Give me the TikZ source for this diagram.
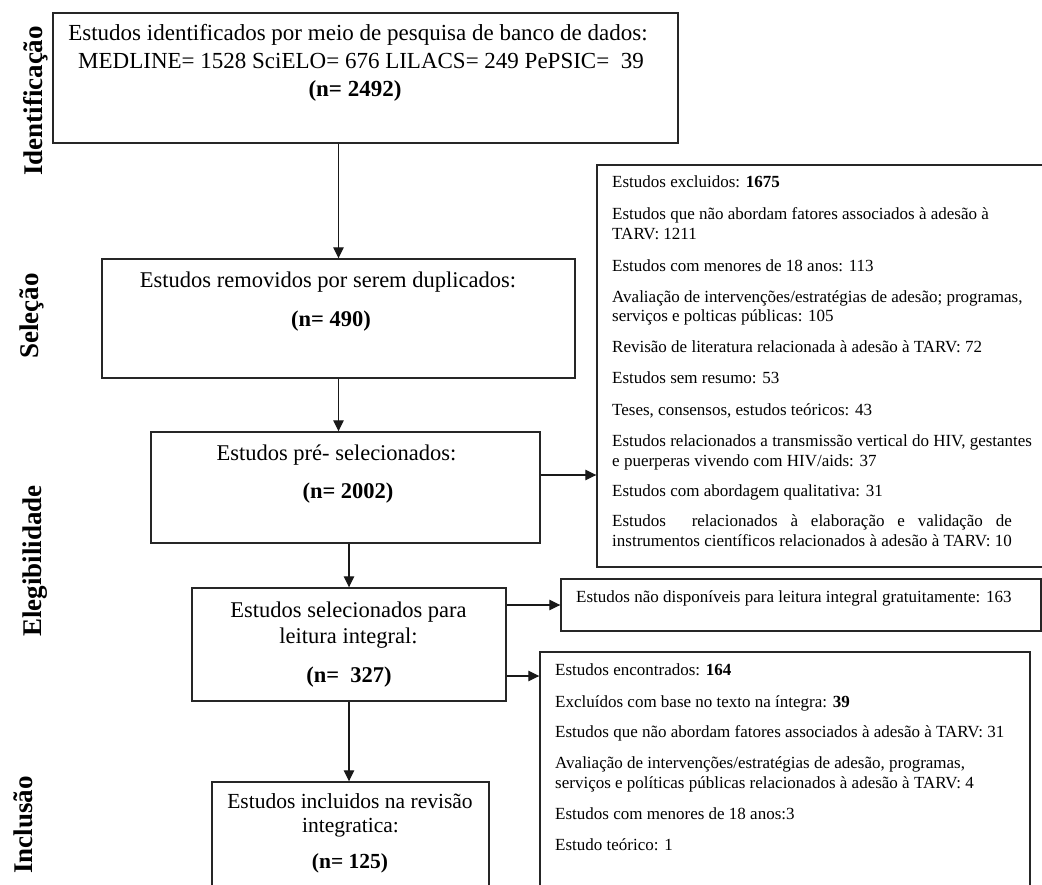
\documentclass[tikz,border=0pt]{standalone}
\usepackage{fontspec}
\setmainfont{Liberation Serif}
\usepackage{calc}
\usetikzlibrary{arrows.meta}
\begin{document}
\begin{tikzpicture}[x=1pt,y=-1pt,
  box/.style={draw=black!85, line width=1.4pt, inner sep=0pt, fill=none},
  arr/.style={draw=black!90, line width=1.2pt, -{Triangle[length=11pt,width=10.5pt]}},
  big/.style={font=\fontsize{22.5}{27}\selectfont, inner sep=0pt, anchor=base},
  small/.style={font=\fontsize{17}{20}\selectfont, inner sep=0pt, anchor=base west},
  lab/.style={font=\fontsize{27}{30}\selectfont\bfseries, rotate=90, inner sep=0pt, anchor=base}]
\useasboundingbox (0,0) rectangle (1042,885);
\clip (0,0) rectangle (1042,885);

% main boxes
\node[box, minimum width=625pt, minimum height=130pt] (b1) at (365.5,78) {};
\node[box, minimum width=473pt, minimum height=119pt] (b2) at (338.5,318.5) {};
\node[box, minimum width=389pt, minimum height=111pt] (b3) at (345.5,487.5) {};
\node[box, minimum width=314pt, minimum height=113pt] (b4) at (349,644.5) {};
\node[box, minimum width=277pt, minimum height=118pt] (b5) at (350.5,841) {};
% side boxes
\node[box, minimum width=453pt, minimum height=402pt] (bA) at (823.5,366) {};
\node[box, minimum width=480pt, minimum height=52pt] (bB) at (801,605) {};
\node[box, minimum width=490pt, minimum height=248pt] (bC) at (785,776) {};

% stage labels
\node[lab] (l1) at (42,101) {Identificação};
\node[lab] (l2) at (38,316) {Seleção};
\node[lab] (l3) at (41,561) {Elegibilidade};
\node[lab] (l4) at (32,825) {Inclusão};

% box 1 text
\node[big, font=\fontsize{23}{27}\selectfont] (t11) at (358,41) {Estudos identificados por meio de pesquisa de banco de dados:};
\node[big, font=\fontsize{23}{27}\selectfont] (t12) at (361,69) {MEDLINE= 1528 SciELO= 676 LILACS= 249 PePSIC=\ \ 39};
\node[big, font=\fontsize{23}{27}\selectfont\bfseries] (t13) at (355,97) {(n= 2492)};
% box 2 text
\node[big] (t21) at (328,288) {Estudos removidos por serem duplicados:};
\node[big, font=\fontsize{22.5}{27}\selectfont\bfseries] (t22) at (331,327) {(n= 490)};
% box 3 text
\node[big] (t31) at (336.5,460) {Estudos pré- selecionados:};
\node[big, font=\fontsize{22.5}{27}\selectfont\bfseries] (t32) at (348,498) {(n= 2002)};
% box 4 text
\node[big] (t41) at (348.5,617) {Estudos selecionados para};
\node[big] (t42) at (348.5,643) {leitura integral:};
\node[big, font=\fontsize{22.5}{27}\selectfont\bfseries] (t43) at (349,682) {(n=\ \ 327)};
% box 5 text
\node[big, font=\fontsize{21.5}{26}\selectfont] (t51) at (350,808) {Estudos incluidos na revisão};
\node[big, font=\fontsize{21.5}{26}\selectfont] (t52) at (350.5,832) {integratica:};
\node[big, font=\fontsize{21.5}{26}\selectfont\bfseries] (t53) at (350,868) {(n= 125)};

% box A text
\node[small] (a1) at (612,188) {Estudos excluidos: \textbf{1675}};
\node[small] (a2) at (612,220) {Estudos que não abordam fatores associados à adesão à};
\node[small] (a3) at (612,240) {TARV: 1211};
\node[small] (a4) at (612,272) {Estudos com menores de 18 anos: 113};
\node[small] (a5) at (612,303) {Avaliação de intervenções/estratégias de adesão; programas,};
\node[small] (a6) at (612,322) {serviços e polticas públicas: 105};
\node[small] (a7) at (612,353) {Revisão de literatura relacionada à adesão à TARV: 72};
\node[small] (a8) at (612,384) {Estudos sem resumo: 53};
\node[small] (a9) at (612,415) {Teses, consensos, estudos teóricos: 43};
\node[small] (a10) at (612,446) {Estudos relacionados a transmissão vertical do HIV, gestantes};
\node[small] (a11) at (612,466) {e puerperas vivendo com HIV/aids: 37};
\node[small] (a12) at (612,496) {Estudos com abordagem qualitativa: 31};
\node[small] (a13) at (612,526) {\makebox[\widthof{instrumentos científicos relacionados à adesão à TARV: 10}][s]{Estudos\ \ relacionados à elaboração e validação de}};
\node[small] (a14) at (612,546) {instrumentos científicos relacionados à adesão à TARV: 10};

% box B text
\node[small] (bt) at (576,602) {Estudos não disponíveis para leitura integral gratuitamente: 163};

% box C text
\node[small] (c1) at (555,675) {Estudos encontrados: \textbf{164}};
\node[small] (c2) at (555,707) {Excluídos com base no texto na íntegra: \textbf{39}};
\node[small] (c3) at (555,737) {Estudos que não abordam fatores associados à adesão à TARV: 31};
\node[small] (c4) at (555,768) {Avaliação de intervenções/estratégias de adesão, programas,};
\node[small] (c5) at (555,788) {serviços e políticas públicas relacionados à adesão à TARV: 4};
\node[small] (c6) at (555,819) {Estudos com menores de 18 anos:3};
\node[small] (c7) at (555,850) {Estudo teórico: 1};

% connectors
\draw[arr] (b1.south -| b2.north) -- (b2.north);
\draw[arr] (b2.south) -- (b2.south |- b3.north);
\draw[arr] (b3.south -| b4.north) -- (b4.north);
\draw[arr] (b4.south) -- (b4.south |- b5.north);
\draw[arr] ([yshift=12.5pt]b3.east) -- ([yshift=12.5pt]b3.east -| bA.west);
\draw[arr] (b4.east |- bB.west) -- (bB.west);
\draw[arr] ([yshift=-31.5pt]b4.east) -- ([yshift=-31.5pt]b4.east -| bC.west);
\end{tikzpicture}
\end{document}
